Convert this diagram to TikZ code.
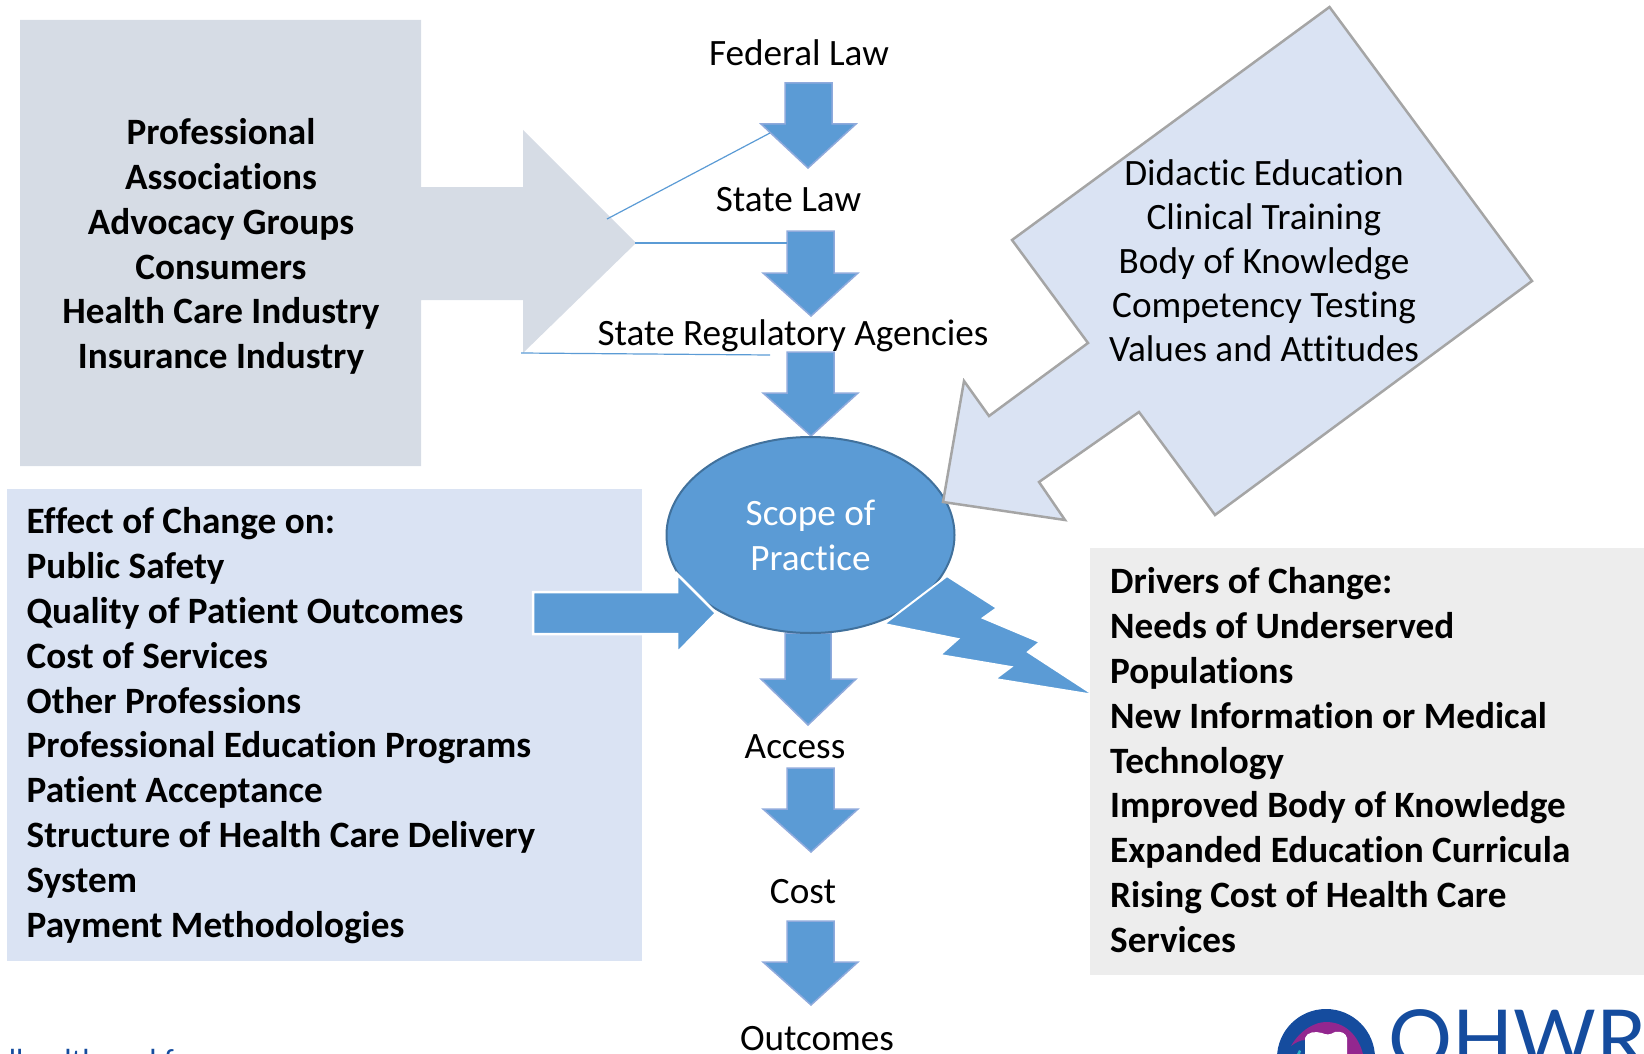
\documentclass[tikz,border=0pt]{standalone}
\usepackage{fontspec}
\setmainfont[Ligatures=NoCommon]{Carlito}
\newfontfamily\logofont{Lato}
\usetikzlibrary{shapes.geometric}
\definecolor{blockblue}{HTML}{5B9BD5}
\definecolor{edgeblue}{HTML}{8FAADC}
\definecolor{paleblue}{HTML}{DAE3F3}
\definecolor{palegray}{HTML}{D6DCE5}
\definecolor{lightgray}{HTML}{EDEDED}
\definecolor{callgray}{HTML}{A5A5A5}
\definecolor{ovaledge}{HTML}{41719C}
\definecolor{logoblue}{HTML}{154C9E}
\definecolor{logopurple}{HTML}{93278F}
\definecolor{logocyan}{HTML}{2FB5C8}
\tikzset{
  x=1pt,y=-1pt,
  txt/.style={font=\fontsize{37.2}{44.8}\selectfont,inner sep=0pt,text=black},
  boldlist/.style={txt,font=\fontsize{37.2}{44.8}\selectfont\bfseries,align=left,anchor=north west},
  boldmid/.style={txt,font=\fontsize{37.2}{44.8}\selectfont\bfseries,align=center},
  flow/.style={fill=blockblue,draw=edgeblue,line width=1.5pt,line join=miter},
  link/.style={draw=blockblue,line width=1.2pt},
}
\begin{document}
\begin{tikzpicture}
\useasboundingbox (0,0) rectangle (1644,1054);
\clip (0,0) rectangle (1644,1054);
% grey source block
\fill[palegray] (20,20)--(421,20)--(421,187)--(523,187)--(523,130)--(636,243)--(523,353)--(523,300)--(421,300)--(421,466)--(20,466)--cycle;
\node[boldmid] (groups) at (221,246.5) {Professional\\Associations\\Advocacy Groups\\Consumers\\Health Care Industry\\Insurance Industry};
% pale box
\node[fill=paleblue,minimum width=635pt,minimum height=472pt,inner sep=0pt] (effectbox) at (324.5,725) {};
% flow arrows
\draw[flow] (785,83)--(832,83)--(832,124)--(856,124)--(808,168)--(761,124)--(785,124)--cycle;
\draw[flow] (787,231)--(834,231)--(834,273)--(858,273)--(811,316)--(763,273)--(787,273)--cycle;
\draw[flow] (787,352)--(834,352)--(834,393)--(858,393)--(811,436)--(763,393)--(787,393)--cycle;
\draw[flow] (785,633)--(831,633)--(831,679)--(856,679)--(808,725)--(761,679)--(785,679)--cycle;
\draw[flow] (787,768)--(834,768)--(834,809)--(858,809)--(811,852)--(763,809)--(787,809)--cycle;
\draw[flow] (787,921)--(834,921)--(834,962)--(858,962)--(811,1005)--(763,962)--(787,962)--cycle;
% connector lines
\coordinate (lineA) at (607,219); \coordinate (lineB) at (770,133);
\coordinate (lineC) at (635,243); \coordinate (lineD) at (787,243);
\coordinate (lineE) at (521,353); \coordinate (lineF) at (770,355);
\draw[link] (lineA)--(lineB);
\draw[link] (lineC)--(lineD);
\draw[link] (lineE)--(lineF);
% centre oval
\node[ellipse,fill=blockblue,draw=ovaledge,line width=2pt,minimum width=288pt,minimum height=196pt,inner sep=0pt] (scope) at (810.5,535) {};
\node[txt,text=white,align=center] (scopetext) at (810.5,535) {Scope of\\Practice};
% side arrow and lightning
\fill[blockblue,draw=white,line width=2.5pt,line join=miter] (533,592)--(677,592)--(677,574)--(716,613)--(677,653)--(677,634)--(533,634)--cycle;
\fill[blockblue,draw=white,line width=2pt,line join=miter] (947,576)--(997,608)--(983,618)--(1040,642)--(1028,652)--(1094,695)--(995,679)--(1011,667)--(940,655)--(958,639)--(884,624)--cycle;
\node[fill=lightgray,minimum width=554pt,minimum height=427pt,inner sep=0pt] (driverbox) at (1367,761) {};
% callout
\draw[fill=paleblue,draw=callgray,line width=2.5pt,line join=miter] (1329.5,7)--(1532,281)--(1215,515)--(1139,412)--(1039,482)--(1065,520)--(943,502)--(964,381)--(989,416)--(1088,343)--(1012,240)--cycle;
\node[txt,align=center,font=\fontsize{37.2}{44}\selectfont] (training) at (1264,261) {Didactic Education\\Clinical Training\\Body of Knowledge\\Competency Testing\\Values and Attitudes};
% list texts
\node[boldlist] (effects) at (26.5,507.5) {Effect of Change on:\\Public Safety\\Quality of Patient Outcomes\\Cost of Services\\Other Professions\\Professional Education Programs\\Patient Acceptance\\Structure of Health Care Delivery\\System\\Payment Methodologies};
\node[boldlist] (drivers) at (1110,567.5) {Drivers of Change:\\Needs of Underserved\\Populations\\New Information or Medical\\Technology\\Improved Body of Knowledge\\Expanded Education Curricula\\Rising Cost of Health Care\\Services};
% flow labels
\node[txt] (federal) at (799,53) {Federal Law};
\node[txt] (state) at (788.5,200) {State Law};
\node[txt] (agencies) at (793,336) {State Regulatory Agencies};
\node[txt] (access) at (795,747) {Access};
\node[txt] (cost) at (803,892) {Cost};
\node[txt] (outcomes) at (817,1039) {Outcomes};
% cut-off web address
\node[anchor=base west,inner sep=0pt,text=logoblue,font=\fontsize{32}{32}\selectfont] (webaddress) at (-34,1071) {oralhealthworkforce.org};
% logo
\fill[logoblue] (1326,1058) circle (49);
\fill[logopurple] (1291,1046) .. controls (1300,1030) and (1315,1022) .. (1326,1022) .. controls (1345,1022) and (1358,1035) .. (1363,1054) -- (1347,1054) -- (1347,1040) -- (1305,1040) .. controls (1300,1040) and (1295,1043) .. (1291,1046) -- cycle;
\fill[white] (1305,1054) -- (1305,1038) .. controls (1307,1032) and (1315,1031) .. (1322,1033) .. controls (1326,1035) and (1330,1035) .. (1335,1032) .. controls (1341,1031) and (1346,1033) .. (1347,1038) -- (1347,1054) -- cycle;
\fill[logocyan] (1297,1054) -- (1299,1050) -- (1301,1051) -- (1300,1054) -- cycle;
\node[anchor=base west,inner sep=0pt,text=logoblue,font=\logofont\fontsize{80}{80}\selectfont] (logo) at (1388,1067) {OHWR};
\end{tikzpicture}
\end{document}
